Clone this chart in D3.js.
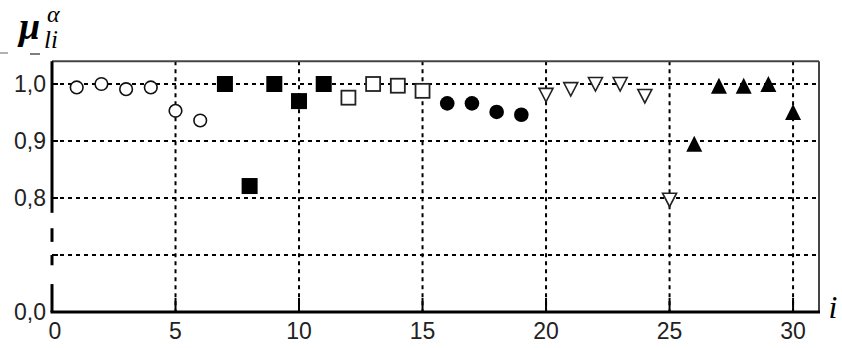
<!DOCTYPE html>
<html>
<head>
<meta charset="utf-8">
<script src="https://cdn.jsdelivr.net/npm/d3@7"></script>
<style>
  body { margin: 0; background: #fff; }
  svg { display: block; }
  .tick-label { font-family: "Liberation Sans", Arial, sans-serif; font-size: 23px; fill: #222; }
  .ttl { font-family: "Liberation Serif", "DejaVu Serif", "Times New Roman", serif; font-style: italic; fill: #000; }
</style>
</head>
<body>
<script>
// data: index i and membership value for each group of objects
var circOpenI = [1, 2, 3, 4, 5, 6];
var circOpenV = [0.994, 1.0, 0.991, 0.994, 0.953, 0.936];
var sqFillI = [7, 8, 9, 10, 11];
var sqFillV = [1.0, 0.821, 1.0, 0.970, 1.0];
var sqOpenI = [12, 13, 14, 15];
var sqOpenV = [0.976, 1.0, 0.997, 0.988];
var circFillI = [16, 17, 18, 19];
var circFillV = [0.966, 0.966, 0.951, 0.946];
var triDownI = [20, 21, 22, 23, 24, 25];
var triDownV = [0.981, 0.991, 1.0, 1.0, 0.979, 0.797];
var triUpI = [26, 27, 28, 29, 30];
var triUpV = [0.895, 0.997, 0.997, 1.0, 0.951];

var xTicks = [0, 5, 10, 15, 20, 25, 30];
// axis is broken: the bottom position (0.6) is labelled 0,0
var yTicks = [0.6, 0.7, 0.8, 0.9, 1.0];
var yTickLabels = ["0,0", "", "0,8", "0,9", "1,0"];
// pieces of the left axis line that are drawn (the break)
var axisPieces = [[0.6, 0.649], [0.682, 0.7], [0.723, 0.747], [0.774, 1.04]];

var width = 842, height = 348;
var x = d3.scaleLinear().domain([0, 31.05]).range([52, 819]);
var y = d3.scaleLinear().domain([0.6, 1.0]).range([312, 84]);
var yTop = 1.04;

var svg = d3.select("body").append("svg")
    .attr("width", width)
    .attr("height", height);

// grid
svg.append("g").selectAll("line")
    .data(yTicks.slice(1))
  .enter().append("line")
    .attr("x1", x(0)).attr("x2", x.range()[1])
    .attr("y1", function(d) { return y(d); })
    .attr("y2", function(d) { return y(d); })
    .attr("stroke", "#000").attr("stroke-width", 2)
    .attr("stroke-dasharray", "4,4");

svg.append("g").selectAll("line")
    .data(xTicks.slice(1))
  .enter().append("line")
    .attr("x1", function(d) { return x(d); })
    .attr("x2", function(d) { return x(d); })
    .attr("y1", y(yTop)).attr("y2", y(0.6))
    .attr("stroke", "#000").attr("stroke-width", 2)
    .attr("stroke-dasharray", "4,4");

// small solid ticks
svg.append("g").selectAll("line")
    .data(xTicks.slice(1))
  .enter().append("line")
    .attr("x1", function(d) { return x(d); })
    .attr("x2", function(d) { return x(d); })
    .attr("y1", y(0.6) - 14).attr("y2", y(0.6))
    .attr("stroke", "#000").attr("stroke-width", 2);

svg.append("g").selectAll("line")
    .data(yTicks.slice(1))
  .enter().append("line")
    .attr("x1", x(0)).attr("x2", x(0) + 6)
    .attr("y1", function(d) { return y(d); })
    .attr("y2", function(d) { return y(d); })
    .attr("stroke", "#000").attr("stroke-width", 2);

// frame: top and right thin, left and bottom thick
svg.append("line")
    .attr("x1", x(0)).attr("x2", x.range()[1])
    .attr("y1", y(yTop)).attr("y2", y(yTop))
    .attr("stroke", "#444").attr("stroke-width", 2);
svg.append("line")
    .attr("x1", x.range()[1]).attr("x2", x.range()[1])
    .attr("y1", y(yTop)).attr("y2", y(0.6))
    .attr("stroke", "#444").attr("stroke-width", 2);
svg.append("line")
    .attr("x1", x(0) - 1.5).attr("x2", x.range()[1] + 1)
    .attr("y1", y(0.6)).attr("y2", y(0.6))
    .attr("stroke", "#000").attr("stroke-width", 3);
svg.append("g").selectAll("line")
    .data(axisPieces)
  .enter().append("line")
    .attr("x1", x(0)).attr("x2", x(0))
    .attr("y1", function(d) { return y(d[0]); })
    .attr("y2", function(d) { return y(d[1]); })
    .attr("stroke", "#000").attr("stroke-width", 3);

// tick labels
svg.append("g").selectAll("text")
    .data(yTicks)
  .enter().append("text")
    .attr("class", "tick-label")
    .attr("x", 46)
    .attr("y", function(d) { return y(d); })
    .attr("dy", "0.36em")
    .attr("text-anchor", "end")
    .text(function(d, i) { return yTickLabels[i]; });

svg.append("g").selectAll("text")
    .data(xTicks)
  .enter().append("text")
    .attr("class", "tick-label")
    .attr("x", function(d) { return x(d) + (d === 0 ? 3 : 0); })
    .attr("y", 339)
    .attr("text-anchor", "middle")
    .text(function(d) { return d; });

// axis titles
svg.append("text")
    .attr("class", "ttl")
    .attr("x", 833).attr("y", 318)
    .attr("text-anchor", "middle")
    .style("font-size", "32px")
    .text("i");

svg.append("text").attr("class", "ttl").attr("x", 19).attr("y", 39)
    .style("font-size", "38px").style("font-weight", "bold").text("μ");
svg.append("text").attr("class", "ttl").attr("x", 47).attr("y", 22)
    .style("font-size", "24px").text("α");
svg.append("text").attr("class", "ttl").attr("x", 44).attr("y", 48)
    .style("font-size", "25px").text("li");
svg.append("line").attr("x1", 0).attr("x2", 8).attr("y1", 53).attr("y2", 53)
    .attr("stroke", "#999").attr("stroke-width", 1.5);
svg.append("line").attr("x1", 30).attr("x2", 40).attr("y1", 54).attr("y2", 54)
    .attr("stroke", "#555").attr("stroke-width", 1.5);

// markers
function pairs(ii, vv) { return ii.map(function(d, k) { return {i: d, v: vv[k]}; }); }
function place(d) { return "translate(" + x(d.i) + "," + y(d.v) + ")"; }

svg.append("g").selectAll("circle")
    .data(pairs(circOpenI, circOpenV))
  .enter().append("circle")
    .attr("cx", function(d) { return x(d.i); })
    .attr("cy", function(d) { return y(d.v); })
    .attr("r", 6.3)
    .attr("fill", "#fff").attr("stroke", "#111").attr("stroke-width", 1.6);

svg.append("g").selectAll("rect")
    .data(pairs(sqFillI, sqFillV))
  .enter().append("rect")
    .attr("x", function(d) { return x(d.i) - 8; })
    .attr("y", function(d) { return y(d.v) - 8; })
    .attr("width", 16).attr("height", 16)
    .attr("fill", "#000");

svg.append("g").selectAll("rect")
    .data(pairs(sqOpenI, sqOpenV))
  .enter().append("rect")
    .attr("x", function(d) { return x(d.i) - 7; })
    .attr("y", function(d) { return y(d.v) - 7; })
    .attr("width", 14).attr("height", 14)
    .attr("fill", "#fff").attr("stroke", "#222").attr("stroke-width", 1.8);

svg.append("g").selectAll("circle")
    .data(pairs(circFillI, circFillV))
  .enter().append("circle")
    .attr("cx", function(d) { return x(d.i); })
    .attr("cy", function(d) { return y(d.v); })
    .attr("r", 7.3)
    .attr("fill", "#000");

svg.append("g").selectAll("path")
    .data(pairs(triDownI, triDownV))
  .enter().append("path")
    .attr("transform", place)
    .attr("d", "M-7,-6.5L7,-6.5L0,7Z")
    .attr("fill", "#fff").attr("stroke", "#222").attr("stroke-width", 1.6);

svg.append("g").selectAll("path")
    .data(pairs(triUpI, triUpV))
  .enter().append("path")
    .attr("transform", place)
    .attr("d", "M0,-8L8,8L-8,8Z")
    .attr("fill", "#000");
</script>
</body>
</html>
